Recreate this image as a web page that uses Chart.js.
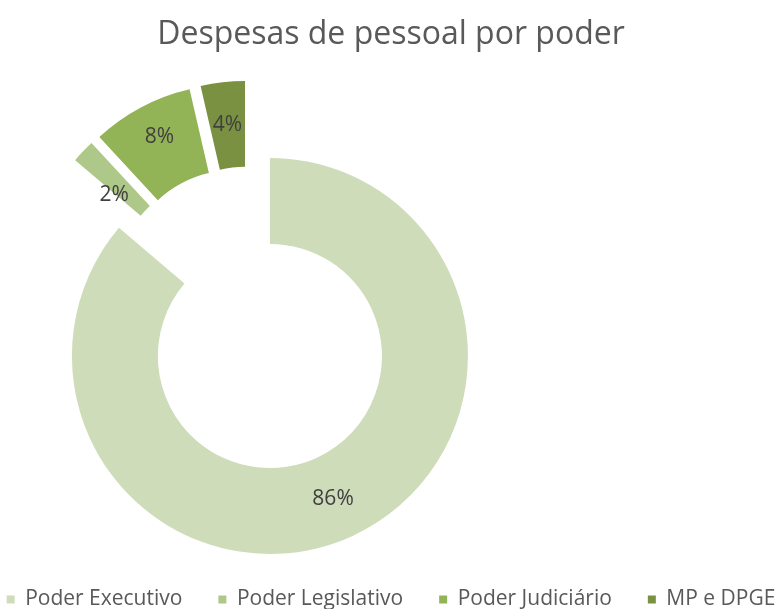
<!DOCTYPE html>
<html>
<head>
<meta charset="utf-8">
<script src="https://cdn.jsdelivr.net/npm/chart.js@4/dist/chart.umd.min.js"></script>
<style>
  html, body { margin: 0; padding: 0; background: #fff; }
  canvas { display: block; }
</style>
</head>
<body>
<canvas id="chart" width="782" height="609"></canvas>
<script>
// data
const categories = ["Poder Executivo", "Poder Legislativo", "Poder Judiciário", "MP e DPGE"];
const shares = [86.2, 1.9, 8.3, 3.6];
const colors = ["#cedcb9", "#aec889", "#93b357", "#7a9141"];

// how far each slice is pulled out (px) and the width the pie lives in
const explode = [51, 31, 31, 31];
const SIDE_PAD = -32;            // lets the one-line legend use the whole width
const PIE_AREA_WIDTH = 497;
// labels that excel nudged off the slice centre (dx, dy)
const labelNudge = [[-2, 2], [0, 14], [-2, -8], [0, 0]];

const FONT = '"Open Sans", "DejaVu Sans", sans-serif';

// exploded slices + percentage labels
const explodePlugin = {
  id: 'explode',
  afterLayout(chart) {
    // doughnut sits left of the page centre, title/legend stay centred
    const a = chart.chartArea;
    a.left = 0;
    a.right = PIE_AREA_WIDTH;
    a.width = PIE_AREA_WIDTH;
  },
  afterDatasetsUpdate(chart) {
    chart.getDatasetMeta(0).data.forEach(function(arc, i) {
      const mid = (arc.startAngle + arc.endAngle) / 2;
      arc.x += Math.cos(mid) * explode[i];
      arc.y += Math.sin(mid) * explode[i];
    });
  },
  afterDatasetsDraw(chart) {
    const ctx = chart.ctx;
    const total = shares.reduce((a, b) => a + b, 0);
    ctx.save();
    ctx.font = '21px ' + FONT;
    ctx.fillStyle = '#404040';
    ctx.textAlign = 'center';
    ctx.textBaseline = 'middle';
    chart.getDatasetMeta(0).data.forEach(function(arc, i) {
      const p = arc.getCenterPoint();
      ctx.fillText(Math.round(shares[i] / total * 100) + '%', p.x + labelNudge[i][0], p.y + labelNudge[i][1]);
    });
    ctx.restore();
  }
};

const ctx = document.getElementById('chart').getContext('2d');
const chart = new Chart(ctx, {
  type: 'doughnut',
  data: {
    labels: categories,
    datasets: [{
      data: shares,
      backgroundColor: colors,
      borderWidth: 0,
      radius: 198,
      cutout: '56.6%',
      clip: false
    }]
  },
  options: {
    responsive: false,
    animation: false,
    events: [],
    layout: {
      padding: { top: 0, left: SIDE_PAD, right: SIDE_PAD, bottom: -11 }
    },
    plugins: {
      title: {
        display: true,
        text: 'Despesas de pessoal por poder',
        color: '#595959',
        font: { family: FONT, size: 32, weight: 'normal' },
        padding: { top: 16, bottom: 12 }
      },
      legend: {
        position: 'bottom',
        labels: {
          color: '#595959',
          font: { family: FONT, size: 21 },
          boxWidth: 8,
          boxHeight: 8,
          padding: 36
        }
      },
      tooltip: { enabled: false }
    }
  },
  plugins: [explodePlugin]
});
</script>
</body>
</html>
